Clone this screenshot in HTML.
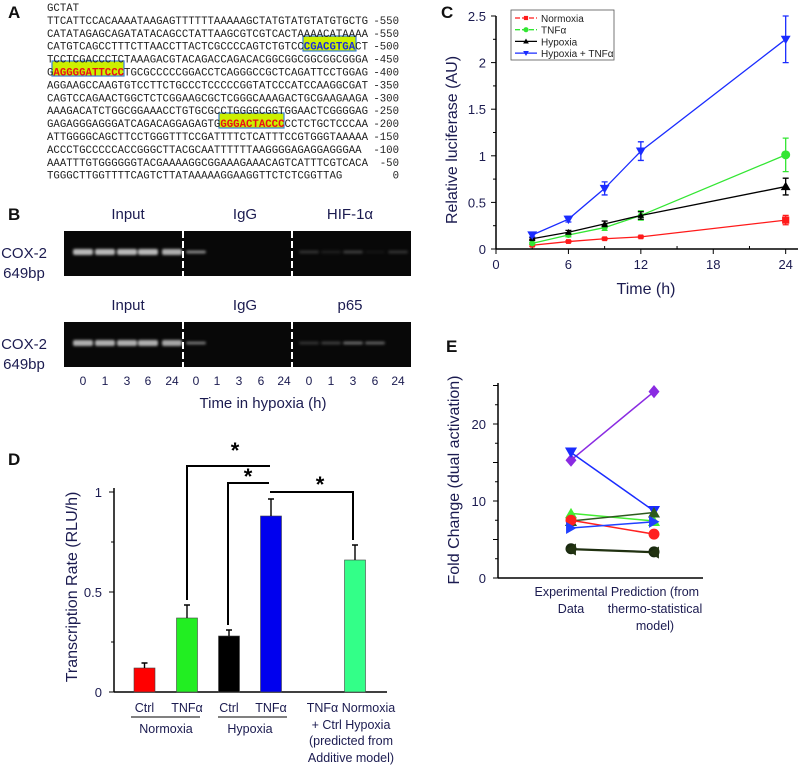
<!DOCTYPE html>
<html><head><meta charset="utf-8"><style>
html,body{margin:0;padding:0;background:#fff;width:798px;height:765px;overflow:hidden}
svg{display:block}
.seq{font-family:"Liberation Mono",monospace;font-size:10.7px;fill:#222}
.lab{font-family:"Liberation Sans",sans-serif;fill:#1b1b50}
.pl{font-family:"Liberation Sans",sans-serif;font-weight:bold;font-size:17px;fill:#111}
</style></head><body>
<svg id="fig" width="798" height="765" viewBox="0 0 798 765" xmlns="http://www.w3.org/2000/svg">
<defs><filter id="bl" x="-20%" y="-100%" width="140%" height="300%"><feGaussianBlur stdDeviation="1.2"/></filter></defs>
<!-- Panel A -->
<g>
<text class="pl" x="8" y="18">A</text>
<rect x="303" y="36" width="53" height="15" fill="#ccf000" stroke="#3a7fd8" stroke-width="1.2"/>
<rect x="52" y="61" width="72" height="15" fill="#ccf000" stroke="#3a7fd8" stroke-width="1.2"/>
<rect x="219" y="113" width="65" height="15" fill="#ccf000" stroke="#3a7fd8" stroke-width="1.2"/>
<g class="seq" id="seqrows"></g>
</g>
<!-- Panel B -->
<g>
<text class="pl" x="8" y="220">B</text>
<g class="lab" font-size="15" text-anchor="middle">
<text x="128" y="219">Input</text><text x="245" y="219">IgG</text><text x="350" y="219">HIF-1α</text>
<text x="128" y="310">Input</text><text x="245" y="310">IgG</text><text x="350" y="310">p65</text>
<text x="24" y="258">COX-2</text><text x="24" y="278">649bp</text>
<text x="24" y="349">COX-2</text><text x="24" y="369">649bp</text>
<text x="263" y="408" font-size="15">Time in hypoxia (h)</text>
</g>
<rect x="64" y="231" width="347" height="45" fill="#080808"/>
<rect x="64" y="322" width="347" height="45" fill="#080808"/>
<g stroke="#fff" stroke-width="2" stroke-dasharray="7,3">
<line x1="183" y1="231" x2="183" y2="276"/><line x1="292" y1="231" x2="292" y2="276"/>
<line x1="183" y1="322" x2="183" y2="367"/><line x1="292" y1="322" x2="292" y2="367"/>
</g>
<g id="bands" filter="url(#bl)"></g>
<g class="lab" font-size="12" text-anchor="middle" id="lanes"></g>
</g>
<!-- Panel C -->
<g id="pc">
<text class="pl" x="441" y="18">C</text>
</g>
<!-- Panel D -->
<g id="pd">
<text class="pl" x="8" y="465">D</text>
</g>
<!-- Panel E -->
<g id="pe">
<text class="pl" x="446" y="352">E</text>
</g>
</svg>
<script>
// ---- Panel C data ----
const cTimes=[3,6,9,12,24];
const cNames=["Normoxia","TNFα","Hypoxia","Hypoxia + TNFα"];
const cNorm=[0.04,0.08,0.11,0.13,0.31];
const cTnf=[0.06,0.15,0.23,0.36,1.01];
const cHyp=[0.11,0.18,0.27,0.36,0.67];
const cBoth=[0.15,0.32,0.65,1.05,2.25];
const cNormErr=[0.01,0.01,0.01,0.01,0.05];
const cTnfErr=[0.01,0.02,0.03,0.05,0.18];
const cHypErr=[0.01,0.02,0.03,0.04,0.09];
const cBothErr=[0.02,0.03,0.07,0.1,0.25];
const cYTicks=[0,0.5,1,1.5,2,2.5];
const cXTicks=[0,6,12,18,24];
// ---- Panel D data ----
const dCats=["Ctrl","TNFα","Ctrl","TNFα","pred"];
const dVals=[0.12,0.37,0.28,0.88,0.66];
const dErr=[0.025,0.065,0.03,0.085,0.075];
const dYTicks=[0,0.5,1];
// ---- Panel E data ----
const eExp=[15.3,16.3,8.4,7.4,7.5,6.5,3.8,3.7];
const ePred=[24.2,8.7,7.4,8.5,5.7,7.3,3.4,3.3];
const eYTicks=[0,10,20];

const NS="http://www.w3.org/2000/svg";
function mk(tag,attrs,parent,txt){const e=document.createElementNS(NS,tag);for(const k in attrs)e.setAttribute(k,attrs[k]);if(txt!==undefined)e.textContent=txt;parent.appendChild(e);return e;}

// ---- Panel A sequence ----
const rows=[["GCTAT",""],["TTCATTCCACAAAATAAGAGTTTTTTAAAAAGCTATGTATGTATGTGCTG","-550"],["CATATAGAGCAGATATACAGCCTATTAAGCGTCGTCACTAAAACATAAAA","-550"],["CATGTCAGCCTTTCTTAACCTTACTCGCCCCAGTCTGTCC|CGACGTGA|CT","-500"],["TCCTCGACCCTCTAAAGACGTACAGACCAGACACGGCGGCGGCGGCGGGA","-450"],["G|AGGGGATTCCC|TGCGCCCCCGGACCTCAGGGCCGCTCAGATTCCTGGAG","-400"],["AGGAAGCCAAGTGTCCTTCTGCCCTCCCCCGGTATCCCATCCAAGGCGAT","-350"],["CAGTCCAGAACTGGCTCTCGGAAGCGCTCGGGCAAAGACTGCGAAGAAGA","-300"],["AAAGACATCTGGCGGAAACCTGTGCGCCTGGGGCGGTGGAACTCGGGGAG","-250"],["GAGAGGGAGGGATCAGACAGGAGAGTG|GGGACTACCC|CCTCTGCTCCCAA","-200"],["ATTGGGGCAGCTTCCTGGGTTTCCGATTTTCTCATTTCCGTGGGTAAAAA","-150"],["ACCCTGCCCCCACCGGGCTTACGCAATTTTTTAAGGGGAGAGGAGGGAA","-100"],["AAATTTGTGGGGGGTACGAAAAGGCGGAAAGAAACAGTCATTTCGTCACA","-50"],["TGGGCTTGGTTTTCAGTCTTATAAAAAGGAAGGTTCTCTCGGTTAG","0"]];
const sg=document.getElementById('seqrows');
rows.forEach((r,i)=>{const y=11+i*12.9;const t=mk('text',{x:47,y:y,textLength:r[0].replace(/\|/g,'').length*6.42,lengthAdjust:'spacingAndGlyphs'},sg);
 const parts=r[0].split('|');parts.forEach((p,j)=>{const ts=mk('tspan',{},t,p);if(j===1){ts.setAttribute('fill',i===3?'#1a2cd8':'#e8101a');ts.setAttribute('font-weight','bold');}});
 
 
 if(r[1]){const n=mk('text',{x:399,y:y,'text-anchor':'end'},sg,r[1]);}
});

// ---- Panel B bands & lanes ----
const laneX=[83,105,127,148,172,196,217,239,261,284,309,331,353,375,398];
const laneLab=["0","1","3","6","24","0","1","3","6","24","0","1","3","6","24"];
const topInt=[0.85,0.85,0.85,0.85,0.8,0.6,0,0,0,0,0.2,0.1,0.25,0.05,0.2];
const botInt=[0.8,0.8,0.8,0.8,0.75,0.5,0,0,0,0,0.2,0.25,0.45,0.4,0];
const bg=document.getElementById('bands');
laneX.forEach((x,i)=>{
 if(topInt[i]>0){const b=mk('rect',{x:x-10,y:252-(i<5?3:1.5),width:20,height:i<5?6:3,rx:2,fill:'#fff','fill-opacity':topInt[i]*0.85},bg);}
 if(botInt[i]>0){const b=mk('rect',{x:x-10,y:343-(i<5?3:1.5),width:20,height:i<5?6:3,rx:2,fill:'#fff','fill-opacity':botInt[i]*0.85},bg);}
 const l=mk('text',{x:x,y:385},document.getElementById('lanes'),laneLab[i]);
});

// ---- Panel C ----
(function(){
const g=document.getElementById('pc');
const X0=496,XS=12.07,Y0=249,YS=93.2;
const xs=t=>X0+t*XS, ys=v=>Y0-v*YS;
mk('line',{x1:X0,y1:16,x2:X0,y2:Y0,stroke:'#000','stroke-width':1.5},g);
mk('line',{x1:X0,y1:Y0,x2:798,y2:Y0,stroke:'#000','stroke-width':1.5},g);
cYTicks.forEach(v=>{mk('line',{x1:X0,y1:ys(v),x2:X0-5,y2:ys(v),stroke:'#000'},g);if(v<2.5)mk('line',{x1:X0,y1:ys(v+0.25),x2:X0-3,y2:ys(v+0.25),stroke:'#000'},g);
 const t=mk('text',{x:X0-10,y:ys(v)+5,'text-anchor':'end',class:'lab','font-size':13},g,String(v));});
cXTicks.forEach(v=>{mk('line',{x1:xs(v),y1:Y0,x2:xs(v),y2:Y0+5,stroke:'#000'},g);mk('line',{x1:xs(v+3),y1:Y0,x2:xs(v+3),y2:Y0-3,stroke:'#000'},g);
 const t=mk('text',{x:xs(v),y:Y0+20,'text-anchor':'middle',class:'lab','font-size':13},g,String(v));});
const yt=mk('text',{transform:`translate(457,140) rotate(-90)`,'text-anchor':'middle',class:'lab','font-size':16},g,'Relative  luciferase (AU)');
const xt=mk('text',{x:646,y:294,'text-anchor':'middle',class:'lab','font-size':16},g,'Time (h)');
const series=[[cNorm,cNormErr,'#ff1a1a','sq'],[cTnf,cTnfErr,'#33e633','ci'],[cHyp,cHypErr,'#000','up'],[cBoth,cBothErr,'#1a2cff','dn']];
function marker(type,x,y,c,s,par){
 if(type==='sq')return mk('rect',{x:x-s*0.8,y:y-s*0.8,width:s*1.6,height:s*1.6,fill:c},par);
 if(type==='ci')return mk('circle',{cx:x,cy:y,r:s,fill:c},par);
 if(type==='up')return mk('path',{d:`M${x},${y-s*1.1}L${x+s*1.1},${y+s*0.8}L${x-s*1.1},${y+s*0.8}Z`,fill:c},par);
 return mk('path',{d:`M${x},${y+s*1.1}L${x+s*1.1},${y-s*0.8}L${x-s*1.1},${y-s*0.8}Z`,fill:c},par);
}
series.forEach(([vals,err,c,m])=>{
 const pl=mk('polyline',{points:vals.map((v,i)=>xs(cTimes[i])+','+ys(v)).join(' '),fill:'none',stroke:c,'stroke-width':1.3},g);
 
 vals.forEach((v,i)=>{const x=xs(cTimes[i]);
  const e=mk('path',{d:`M${x},${ys(v+err[i])}V${ys(v-err[i])}M${x-3},${ys(v+err[i])}H${x+3}M${x-3},${ys(v-err[i])}H${x+3}`,stroke:c,'stroke-width':1.3,fill:'none'},g);
  
  const s=(i===4||m==='dn')?4.5:3;const mm=marker(m,x,ys(v),c,s,g);});
});
const lg=mk('g',{},g);
mk('rect',{x:511,y:10,width:103,height:50,fill:'#fff',stroke:'#555','stroke-width':0.8},lg);
series.forEach(([v,e,c,m],i)=>{const y=18+i*11.7;mk('line',{x1:515,y1:y,x2:537,y2:y,stroke:c,'stroke-width':1.3,'stroke-dasharray':m==='dn'||m==='up'?'none':'5,2'},lg);marker(m,526,y,c,2.6,lg);
 const t=mk('text',{x:541,y:y+4,'font-family':'Liberation Sans,sans-serif','font-size':10,fill:'#222'},lg,cNames[i]);});
})();

// ---- Panel D ----
(function(){
const g=document.getElementById('pd');
const X0=114,Y0=692,YS=200;const ys=v=>Y0-v*YS;
const bx=[144.5,187,229,271,355];const cols=['#ff0000','#22ee22','#000000','#0000ee','#33ff88'];
mk('line',{x1:X0,y1:488,x2:X0,y2:Y0,stroke:'#000','stroke-width':1.5},g);
mk('line',{x1:X0,y1:Y0,x2:387,y2:Y0,stroke:'#000','stroke-width':1.5},g);
dYTicks.forEach(v=>{mk('line',{x1:X0,y1:ys(v),x2:X0-5,y2:ys(v),stroke:'#000'},g);if(v<1)mk('line',{x1:X0,y1:ys(v+0.25),x2:X0-3,y2:ys(v+0.25),stroke:'#000'},g);
 const t=mk('text',{x:X0-12,y:ys(v)+5,'text-anchor':'end',class:'lab','font-size':13},g,String(v));});
dVals.forEach((v,i)=>{const r=mk('rect',{x:bx[i]-10.5,y:ys(v),width:21,height:v*YS,fill:cols[i],stroke:'#444','stroke-width':0.6},g);
 
 const e=mk('path',{d:`M${bx[i]},${ys(v)}V${ys(v+dErr[i])}M${bx[i]-3},${ys(v+dErr[i])}H${bx[i]+3}`,stroke:'#000','stroke-width':1.4,fill:'none'},g);});
const yt=mk('text',{transform:`translate(77,587) rotate(-90)`,'text-anchor':'middle',class:'lab','font-size':16},g,'Transcription Rate (RLU/h)');
const br=mk('path',{d:`M187,${ys(dVals[1]+dErr[1])-5}V466H270M228,${ys(dVals[2]+dErr[2])-5}V483H269M270,492H353V${ys(dVals[4]+dErr[4])-5}`,stroke:'#000','stroke-width':2,fill:'none'},g);

[[235,458],[248,484],[320,492]].forEach(p=>{const s=mk('text',{x:p[0],y:p[1],'text-anchor':'middle','font-family':'Liberation Sans,sans-serif','font-size':22,'font-weight':'bold',fill:'#000'},g,'*');});
const lab=(x,y,t,n)=>{const e=mk('text',{x:x,y:y,'text-anchor':'middle',class:'lab','font-size':12.5},g,t);};
dCats.slice(0,4).forEach((c,i)=>lab(bx[i],712,c,'x-category-label'));
mk('line',{x1:131,y1:717,x2:200,y2:717,stroke:'#000'},g);mk('line',{x1:218,y1:717,x2:287,y2:717,stroke:'#000'},g);
lab(166,733,'Normoxia','group-label');lab(250,733,'Hypoxia','group-label');
lab(351,712,'TNFα Normoxia','x-category-label');lab(351,729,'+ Ctrl Hypoxia','x-category-label');lab(351,745,'(predicted from','x-category-label');lab(351,762,'Additive model)','x-category-label');
})();

// ---- Panel E ----
(function(){
const g=document.getElementById('pe');
const X0=498,Y0=578,YS=7.7;const ys=v=>Y0-v*YS;const xE=571,xP=654;
mk('line',{x1:X0,y1:383,x2:X0,y2:Y0,stroke:'#000','stroke-width':1.5},g);
mk('line',{x1:X0,y1:Y0,x2:703,y2:Y0,stroke:'#000','stroke-width':1.5},g);
for(let v=0;v<=25;v+=2.5){mk('line',{x1:X0,y1:ys(v),x2:X0-(v%5===0?5:3),y2:ys(v),stroke:'#000'},g);}
eYTicks.forEach(v=>{const t=mk('text',{x:X0-12,y:ys(v)+5,'text-anchor':'end',class:'lab','font-size':13},g,String(v));});
const yt=mk('text',{transform:`translate(459,480) rotate(-90)`,'text-anchor':'middle',class:'lab','font-size':16},g,'Fold Change (dual activation)');
const cols=['#8a2be2','#1a2cff','#44ee33','#2d5a1e','#ff2020','#2040ff','#1a2a10','#223311'];
const mks=['dia','dn','up','up','ci','rt','ci','lt'];
function marker(t,x,y,c){const s=5.5;
 if(t==='dia')return mk('path',{d:`M${x},${y-s*1.2}L${x+s},${y}L${x},${y+s*1.2}L${x-s},${y}Z`,fill:c},g);
 if(t==='dn')return mk('path',{d:`M${x},${y+s}L${x+s*1.1},${y-s*0.9}L${x-s*1.1},${y-s*0.9}Z`,fill:c},g);
 if(t==='up')return mk('path',{d:`M${x},${y-s}L${x+s*1.1},${y+s*0.9}L${x-s*1.1},${y+s*0.9}Z`,fill:c},g);
 if(t==='rt')return mk('path',{d:`M${x+s},${y}L${x-s*0.9},${y-s*1.1}L${x-s*0.9},${y+s*1.1}Z`,fill:c},g);
 if(t==='lt')return mk('path',{d:`M${x-s},${y}L${x+s*0.9},${y-s*1.1}L${x+s*0.9},${y+s*1.1}Z`,fill:c},g);
 return mk('circle',{cx:x,cy:y,r:s,fill:c},g);}
eExp.forEach((v,i)=>{const l=mk('line',{x1:xE,y1:ys(v),x2:xP,y2:ys(ePred[i]),stroke:cols[i],'stroke-width':1.5},g);});
eExp.forEach((v,i)=>{const a=marker(mks[i],xE,ys(v),cols[i]);
 const b=marker(mks[i],xP,ys(ePred[i]),cols[i]);});
const lab=(x,y,t)=>{const e=mk('text',{x:x,y:y,'text-anchor':'middle',class:'lab','font-size':12.5},g,t);};
lab(xE,596,'Experimental');lab(xE,613,'Data');lab(xP+1,596,'Prediction (from');lab(xP+1,613,'thermo-statistical');lab(xP+1,630,'model)');
})();
</script>
</body></html>
